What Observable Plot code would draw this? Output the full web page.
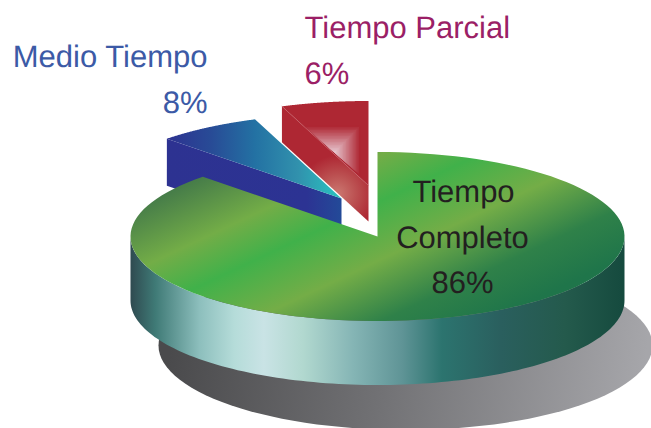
<!DOCTYPE html>
<html>
<head>
<meta charset="utf-8">
<script src="https://cdn.jsdelivr.net/npm/d3@7"></script>
<script src="https://cdn.jsdelivr.net/npm/@observablehq/plot@0.6"></script>
<style>
html,body{margin:0;padding:0;background:#fff}
svg{display:block}
svg text{text-rendering:geometricPrecision}
</style>
</head>
<body>
<div id="chart"></div>
<script>
// Data
const categories = ["Tiempo Completo", "Medio Tiempo", "Tiempo Parcial"];
const shares = [86, 8, 6];
// Share of the ellipse each slice actually occupies in the drawing
const drawnShares = [87.5, 6.8, 5.7];

// Pie geometry
const W = 651, H = 428;
const center = {x: 377, y: 236};
const rx = 247, ry = 84.5;
const explode = [[0, 0], [-36, -38], [-9, -51]];
const depth = [64, 47, 36];

const sum = d3.cumsum(drawnShares);
const total = sum[sum.length - 1];
const start = i => (i ? sum[i - 1] : 0) / total * 360;
const end = i => sum[i] / total * 360;
const onRim = (deg, cx, cy, dy = 0) => {
  const a = deg * Math.PI / 180;
  return {x: cx + rx * Math.sin(a), y: cy - ry * Math.cos(a) + dy};
};
const arc = (from, to, cx, cy, dy = 0) =>
  d3.range(0, 121).map(k => onRim(from + (to - from) * k / 120, cx, cy, dy));
const apex = i => ({x: center.x + explode[i][0], y: center.y + explode[i][1]});
const topFace = i => [apex(i), ...arc(start(i), end(i), apex(i).x, apex(i).y)];

// Front wall of the big slice
const wall = [...arc(90, 270, center.x, center.y), ...arc(270, 90, center.x, center.y, depth[0])];

// Cut faces of exploded slices
const cutFace = (i, rimDeg) => {
  const p = apex(i), q = onRim(rimDeg, p.x, p.y);
  return [q, p, {x: p.x, y: p.y + depth[i]}, {x: q.x, y: q.y + depth[i]}];
};
const blueCut = cutFace(1, start(1));
const redCut = cutFace(2, start(2));

// Glow on the red slice: nested triangles shrinking towards a point on the fold
const rp = apex(2);
const glowCorners = [[-65, -60], [-8, -60], [-8, -10]];
const glowMid = [-34, -33];
const glowSteps = d3.range(0, 18);
const glowColor = d3.interpolateRgb("#ae2733", "#e6c3cc");
const glowTriangle = s => {
  const k = 1 - s / 18;
  return glowCorners.map(([a, b]) => ({
    x: rp.x + glowMid[0] + (a - glowMid[0]) * k,
    y: rp.y + glowMid[1] + (b - glowMid[1]) * k
  }));
};

// Gradients
const gradients = [
  {id: "gTop", x1: 300, y1: 129, x2: 407.8, y2: 358, stops: [
    [0.00, "#467c49"], [0.225, "#73ad47"], [0.39, "#40b14a"], [0.60, "#74ad47"], [0.82, "#2f8149"], [1, "#1f754a"]]},
  {id: "gWall", x1: 130, y1: 0, x2: 624, y2: 0, stops: [
    [0.00, "#2f4a50"], [0.05, "#3f7a76"], [0.14, "#8dbfbd"], [0.21, "#b5dcd9"], [0.27, "#c9e3e5"],
    [0.35, "#b1d8cf"], [0.45, "#85b5b5"], [0.55, "#5f9496"], [0.63, "#2c746f"], [0.75, "#2a5f5e"],
    [0.88, "#245a4c"], [1, "#154a3e"]]},
  {id: "gShadow", x1: 170, y1: 340, x2: 640, y2: 400, stops: [
    [0, "#4a4a4c"], [0.45, "#717174"], [1, "#a6a6aa"]]},
  {id: "gBlueTop", x1: 167, y1: 0, x2: 341, y2: 0, stops: [
    [0, "#2d3291"], [0.25, "#284b96"], [0.5, "#2371a3"], [0.75, "#3191ad"], [0.92, "#2bb5bb"], [1, "#28c2bc"]]},
  {id: "gBlueCut", x1: 167, y1: 0, x2: 341, y2: 0, stops: [
    [0, "#2d3291"], [0.8, "#2c3393"], [1, "#234a98"]]}
];
const radials = [
  {id: "gRedCut", cx: 337, cy: 193, r: 38, stops: [[0, "#cb7770"], [0.5, "#bb4f50"], [1, "#ae2733"]]}
];

const defs = () => {
  const d = d3.create("svg:defs");
  for (const g of gradients) {
    const lg = d.append("linearGradient").attr("id", g.id).attr("gradientUnits", "userSpaceOnUse")
      .attr("x1", g.x1).attr("y1", g.y1).attr("x2", g.x2).attr("y2", g.y2);
    for (const [o, c] of g.stops) lg.append("stop").attr("offset", o).attr("stop-color", c);
  }
  for (const g of radials) {
    const rg = d.append("radialGradient").attr("id", g.id).attr("gradientUnits", "userSpaceOnUse")
      .attr("cx", g.cx).attr("cy", g.cy).attr("r", g.r);
    for (const [o, c] of g.stops) rg.append("stop").attr("offset", o).attr("stop-color", c);
  }
  return d.node();
};

const face = (pts, fill) => Plot.line(pts, {x: "x", y: "y", fill, stroke: "none", curve: "linear"});

// Labels
const ink = ["#231f20", "#3c5aa6", "#9b1f66"];
const labelText = [
  {text: "Medio Tiempo", x: 207, y: 66, anchor: "end", c: ink[1]},
  {text: shares[1] + "%", x: 207, y: 112, anchor: "end", c: ink[1]},
  {text: "Tiempo Parcial", x: 304, y: 37, anchor: "start", c: ink[2]},
  {text: shares[2] + "%", x: 304, y: 83, anchor: "start", c: ink[2]},
  {text: "Tiempo", x: 463, y: 201, anchor: "middle", c: ink[0]},
  {text: "Completo", x: 462, y: 247, anchor: "middle", c: ink[0]},
  {text: shares[0] + "%", x: 462, y: 292, anchor: "middle", c: ink[0]}
];
const textMark = a => Plot.text(labelText.filter(d => d.anchor === a), {
  x: "x", y: "y", text: "text", fill: "c", textAnchor: a, lineAnchor: "bottom",
  fontSize: 31, fontFamily: "Liberation Sans"
});

const chart = Plot.plot({
  width: W, height: H, margin: 0,
  x: {domain: [0, W], range: [0, W], axis: null},
  y: {domain: [0, H], range: [0, H], axis: null},
  style: {background: "#fff"},
  marks: [
    defs,
    // ground shadow
    face(arc(0, 360, 405, 345), "url(#gShadow)"),
    // red slice
    face(redCut, "url(#gRedCut)"),
    face(topFace(2), "#ae2733"),
    ...glowSteps.map(s => face(glowTriangle(s), glowColor(s / 17))),
    Plot.line(redCut.slice(0, 2), {x: "x", y: "y", stroke: "#c9616a", strokeWidth: 0.6, strokeOpacity: 0.8}),
    // blue slice
    face(blueCut, "url(#gBlueCut)"),
    face(topFace(1), "url(#gBlueTop)"),
    // big slice
    face(wall, "url(#gWall)"),
    face(topFace(0), "url(#gTop)"),
    textMark("start"), textMark("middle"), textMark("end")
  ]
});
document.getElementById("chart").append(chart);
</script>
</body>
</html>
